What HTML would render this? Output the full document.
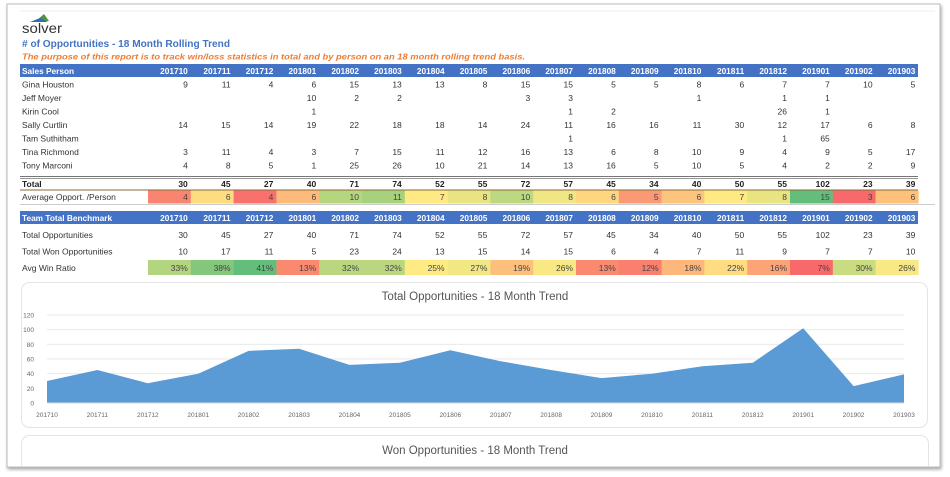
<!DOCTYPE html>
<html><head><meta charset="utf-8">
<style>
html,body{margin:0;padding:0;background:#fff;width:950px;height:477px;overflow:hidden}
svg{display:block}
text{font-family:"Liberation Sans",sans-serif}
</style></head><body>
<svg id="s" width="950" height="477" xmlns="http://www.w3.org/2000/svg">
<defs>
<filter id="sh" x="-5%" y="-5%" width="110%" height="110%"><feDropShadow dx="1" dy="2" stdDeviation="1.5" flood-color="#000" flood-opacity="0.35"/></filter>
<clipPath id="cp"><rect x="7" y="4" width="933" height="462"/></clipPath>
</defs>
<rect x="7" y="4" width="933" height="463" fill="#fff" stroke="#bbb" stroke-width="1" filter="url(#sh)"/>
<g id="g" clip-path="url(#cp)"></g>
</svg>
<script>
var g=document.getElementById('g'),NS='http://www.w3.org/2000/svg';
function el(t,a,txt){var e=document.createElementNS(NS,t);for(var k in a)e.setAttribute(k,a[k]);if(txt!=null)e.textContent=txt;g.appendChild(e);return e;}
function T(x,y,s,o){o=o||{};var a={x:x,y:y,'font-size':o.fs||8.5,fill:o.fill||'#333'};if(o.a)a['text-anchor']=o.a;if(o.w)a['font-weight']=o.w;if(o.i)a['font-style']='italic';if(o.tl){a.textLength=o.tl;a.lengthAdjust='spacingAndGlyphs';}el('text',a,s);}
el('line',{x1:20,y1:11,x2:935,y2:11,stroke:'#eee'});
// logo
el('polygon',{points:'36,21 44,14 49,21',fill:'#4a9a3c'});
el('polygon',{points:'30,22 40,18 48,22',fill:'#2f6fb5'});
T(22,33,'solver',{fs:14,fill:'#333',tl:40});
T(22,47,'# of Opportunities - 18 Month Rolling Trend',{fs:10,fill:'#4472C4',w:'bold',tl:208});
T(22,59.5,'The purpose of this report is to track win/loss statistics in total and by person on an 18 month rolling trend basis.',{fs:8.2,fill:'#ED7D31',w:'bold',i:1,tl:503});
var months=['201710','201711','201712','201801','201802','201803','201804','201805','201806','201807','201808','201809','201810','201811','201812','201901','201902','201903'];
var cw=42.8,c0=148;
function colR(i){return c0+cw*(i+1)-3;}
function header(y,lab){el('rect',{x:20,y:y,width:898,height:13,fill:'#4472C4'});T(22,y+10,lab,{fill:'#fff',w:'bold',fs:8.3});months.forEach(function(m,i){T(colR(i),y+10,m,{fill:'#fff',w:'bold',fs:8.3,a:'end'});});}
header(64,'Sales Person');
var people=[['Gina Houston',[9,11,4,6,15,13,13,8,15,15,5,5,8,6,7,7,10,5]],
['Jeff Moyer',['','','',10,2,2,'','',3,3,'','',1,'',1,1,'','']],
['Kirin Cool',['','','',1,'','','','','',1,2,'','','',26,1,'','']],
['Sally Curtlin',[14,15,14,19,22,18,18,14,24,11,16,16,11,30,12,17,6,8]],
['Tam Suthitham',['','','','','','','','','',1,'','','','',1,65,'','']],
['Tina Richmond',[3,11,4,3,7,15,11,12,16,13,6,8,10,9,4,9,5,17]],
['Tony Marconi',[4,8,5,1,25,26,10,21,14,13,16,5,10,5,4,2,2,9]]];
people.forEach(function(p,r){var y=87.5+r*13.5;T(22,y,p[0]);p[1].forEach(function(v,i){if(v!=='')T(colR(i),y,String(v),{a:'end'});});});
el('line',{x1:20,y1:176.5,x2:918,y2:176.5,stroke:'#777',"stroke-width":1});
el('line',{x1:20,y1:178.5,x2:918,y2:178.5,stroke:'#999',"stroke-width":1});
var tot=[30,45,27,40,71,74,52,55,72,57,45,34,40,50,55,102,23,39];
T(22,187,'Total',{w:'bold',fill:'#222'});tot.forEach(function(v,i){T(colR(i),187,String(v),{a:'end',w:'bold',fill:'#222'});});
var avg=[4,6,4,6,10,11,7,8,10,8,6,5,6,7,8,15,3,6];
var avgc=['#f98570','#fedd81','#f8716c','#fdbb7b','#b5d67f','#a8d17e','#fee983','#e8e483','#bcd880','#f0e683','#fed680','#fa9a74','#fdc47d','#fee983','#e9e482','#63be7b','#f8696b','#fdc17c'];
el('line',{x1:20,y1:190,x2:918,y2:190,stroke:'#8a6a3a'});
T(22,200,'Average Opport. /Person');
avg.forEach(function(v,i){el('rect',{x:c0+cw*i,y:190.5,width:cw+0.3,height:13,fill:avgc[i]});T(colR(i),200,String(v),{a:'end',fill:'#444'});});
el('line',{x1:20,y1:204.5,x2:935,y2:204.5,stroke:'#ccc'});
header(211,'Team Total Benchmark');
T(22,238,'Total Opportunities');tot.forEach(function(v,i){T(colR(i),238,String(v),{a:'end'});});
var won=[10,17,11,5,23,24,13,15,14,15,6,4,7,11,9,7,7,10];
T(22,254.5,'Total Won Opportunities');won.forEach(function(v,i){T(colR(i),254.5,String(v),{a:'end'});});
var wr=[33,38,41,13,32,32,25,27,19,26,13,12,18,22,16,7,30,26];
var wrc=['#b3d57f','#84c67c','#63be7b','#f98a70','#bad780','#bad780','#feeb84','#f1e783','#fdc07c','#f8e984','#f98a70','#f9806e','#fdb77a','#fedc81','#fca477','#f8696b','#cadc81','#f8e984'];
T(22,271,'Avg Win Ratio');
wr.forEach(function(v,i){el('rect',{x:c0+cw*i,y:260,width:cw+0.3,height:15,fill:wrc[i]});T(colR(i),271,v+'%',{a:'end',fill:'#444'});});
// chart card
el('rect',{x:21.5,y:282.5,width:906,height:145,rx:8,fill:'#fff',stroke:'#e4e4e4'});
T(475,300,'Total Opportunities - 18 Month Trend',{a:'middle',fs:11.5,fill:'#555'});
var x0=47,dx=(904-47)/17,yb=403,k=88/120;
for(var v=0;v<=120;v+=20){var y=yb-v*k;if(v>0)el('line',{x1:47,y1:y,x2:904,y2:y,stroke:'#eaeaea'});T(34,y+2.5,String(v),{a:'end',fs:6.5,fill:'#666'});}
var pts=x0+','+yb;tot.forEach(function(v,i){pts+=' '+(x0+dx*i).toFixed(1)+','+(yb-v*k).toFixed(1);});pts+=' 904,'+yb;
el('polygon',{points:pts,fill:'#5B9BD5'});
el('line',{x1:47,y1:yb,x2:904,y2:yb,stroke:'#d9d9d9'});
months.forEach(function(m,i){T(x0+dx*i,417,m,{a:'middle',fs:6.5,fill:'#666'});});
el('rect',{x:21.5,y:435.5,width:907,height:60,rx:8,fill:'#fff',stroke:'#e4e4e4'});
T(475,454,'Won Opportunities - 18 Month Trend',{a:'middle',fs:11.5,fill:'#555'});
</script>
</body></html>
